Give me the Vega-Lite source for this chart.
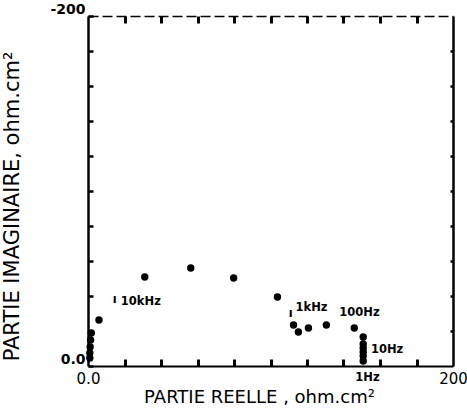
{
  "$schema": "https://vega.github.io/schema/vega-lite/v6.json",
  "width": 365,
  "height": 350,
  "autosize": {"type": "none"},
  "padding": {"left": 88, "top": 16, "right": 14, "bottom": 51},
  "background": "white",
  "config": {
    "view": {"stroke": null},
    "axis": {"grid": false, "domainColor": "black", "tickColor": "black", "labelColor": "black", "titleColor": "black", "labelFont": "DejaVu Sans", "titleFont": "DejaVu Sans"}
  },
  "datasets": {
    "pts": [
      {"x": 1, "y": 4.6},
      {"x": 1, "y": 7.4},
      {"x": 1.2, "y": 10.9},
      {"x": 1.4, "y": 14.9},
      {"x": 1.8, "y": 18.9},
      {"x": 6.0, "y": 26.3},
      {"x": 31.1, "y": 50.9},
      {"x": 56.3, "y": 56.0},
      {"x": 79.8, "y": 50.3},
      {"x": 103.8, "y": 39.4},
      {"x": 112.6, "y": 23.4},
      {"x": 115.3, "y": 19.4},
      {"x": 120.8, "y": 21.7},
      {"x": 130.6, "y": 23.4},
      {"x": 145.9, "y": 21.7},
      {"x": 150.8, "y": 16.6},
      {"x": 150.8, "y": 12.6},
      {"x": 150.8, "y": 10.3},
      {"x": 150.8, "y": 8.0},
      {"x": 150.8, "y": 5.7},
      {"x": 150.8, "y": 2.9}
    ],
    "labels": [
      {"label": "ı", "x": 13.5, "y": 37.5},
      {"label": "10kHz", "x": 18, "y": 36.6},
      {"label": "ı", "x": 110, "y": 29.5},
      {"label": "1kHz", "x": 113.7, "y": 33.1},
      {"label": "100Hz", "x": 137.7, "y": 30.3},
      {"label": "10Hz", "x": 155, "y": 9.1},
      {"label": "1Hz", "x": 146.5, "y": -6.9}
    ]
  },
  "resolve": {"axis": {"x": "independent", "y": "independent"}},
  "layer": [
    {
      "data": {"name": "pts"},
      "mark": {"type": "point", "filled": true, "color": "black", "size": 55, "opacity": 1},
      "encoding": {
        "x": {"field": "x", "type": "quantitative", "scale": {"domain": [0, 200], "nice": false},
          "axis": {"orient": "bottom", "values": [0, 200],
            "labelExpr": "datum.value == 0 ? '0.0' : '200'",
            "ticks": false, "domainWidth": 2, "labelPadding": 5, "labelFontSize": 15, "labelFontWeight": "normal",
            "labelOverlap": false, "labelFlush": false,
            "title": "PARTIE REELLE , ohm.cm²", "titleFontSize": 18, "titleFontWeight": "normal", "titlePadding": 2, "titleX": 171}},
        "y": {"field": "y", "type": "quantitative", "scale": {"domain": [0, 200], "nice": false},
          "axis": {"orient": "left", "values": [0, 20, 40, 60, 80, 100, 120, 140, 160, 180, 200],
            "labelExpr": "datum.value == 0 ? '0.0' : (datum.value == 200 ? '-200' : '')",
            "tickSize": -5, "tickWidth": 2.5, "domainWidth": 2.5, "labelPadding": 8, "labelFontSize": 14, "labelFontWeight": "bold",
            "labelBaseline": "bottom", "labelOverlap": false, "labelFlush": false,
            "title": "PARTIE IMAGINAIRE, ohm.cm²", "titleFontSize": 21, "titleFontWeight": "normal", "titleX": -66, "titleY": 190}}
      }
    },
    {
      "data": {"name": "labels"},
      "mark": {"type": "text", "align": "left", "baseline": "middle", "font": "DejaVu Sans", "fontWeight": "bold", "fontSize": 11.5, "color": "black"},
      "encoding": {
        "x": {"field": "x", "type": "quantitative", "axis": null},
        "y": {"field": "y", "type": "quantitative", "axis": null},
        "text": {"field": "label"}
      }
    },
    {
      "data": {"name": "pts"},
      "mark": {"type": "point", "opacity": 0},
      "encoding": {
        "x": {"field": "x", "type": "quantitative",
          "axis": {"orient": "bottom", "offset": -7, "values": [20, 40, 60, 80, 100, 120, 140, 160, 180], "labels": false, "title": null, "domain": false,
            "ticks": true, "tickSize": 7, "tickWidth": 3, "tickColor": "#000000"}},
        "y": {"field": "y", "type": "quantitative",
          "axis": {"orient": "right", "values": [20, 40, 60, 80, 100, 120, 140, 160, 180], "labels": false, "title": null, "domain": false,
            "ticks": true, "tickSize": 3, "tickWidth": 2.5, "offset": -3}}
      }
    },
    {
      "data": {"name": "pts"},
      "mark": {"type": "point", "opacity": 0},
      "encoding": {
        "x": {"field": "x", "type": "quantitative",
          "axis": {"orient": "top", "offset": -7, "values": [20, 40, 60, 80, 100, 120, 140, 160, 180], "labels": false, "title": null, "domain": false,
            "ticks": true, "tickSize": 7, "tickWidth": 3, "tickColor": "#000000"}},
        "y": {"field": "y", "type": "quantitative",
          "axis": {"orient": "right", "values": [0, 200], "labels": false, "title": null, "ticks": false, "domainWidth": 2.5}}
      }
    },
    {
      "data": {"name": "pts"},
      "mark": {"type": "point", "opacity": 0},
      "encoding": {
        "x": {"field": "x", "type": "quantitative",
          "axis": {"orient": "top", "values": [0, 200], "labels": false, "title": null, "ticks": false, "domainWidth": 1.5, "domainDash": [10, 4]}},
        "y": {"field": "y", "type": "quantitative", "axis": null}
      }
    }
  ]
}
